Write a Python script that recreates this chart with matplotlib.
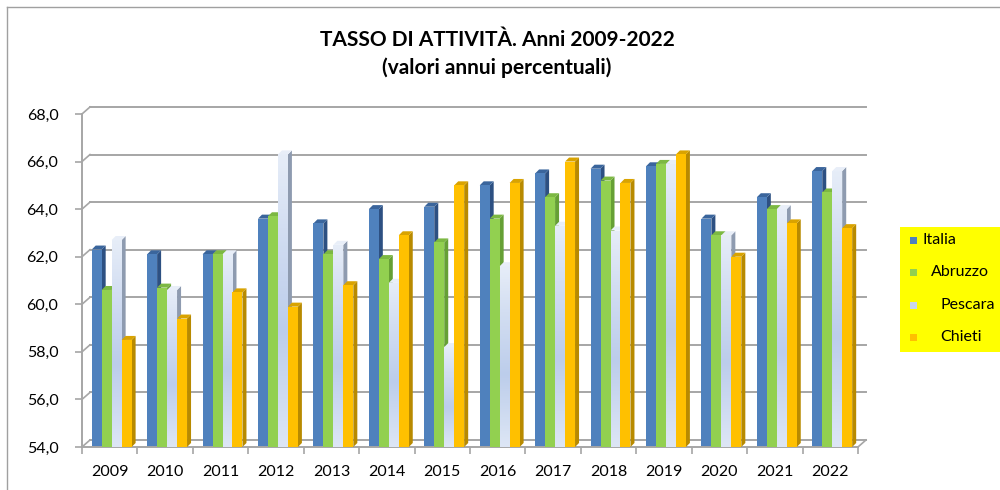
import matplotlib.pyplot as plt
from matplotlib.patches import Rectangle, Polygon
from matplotlib.lines import Line2D
from matplotlib.colors import LinearSegmentedColormap
import numpy as np

# Data
years = ['2009', '2010', '2011', '2012', '2013', '2014', '2015',
         '2016', '2017', '2018', '2019', '2020', '2021', '2022']
italia = [62.3, 62.1, 62.1, 63.6, 63.4, 64.0, 64.1, 65.0, 65.5, 65.7, 65.8, 63.6, 64.5, 65.6]
abruzzo = [60.6, 60.7, 62.1, 63.7, 62.1, 61.9, 62.6, 63.6, 64.5, 65.2, 65.9, 62.9, 64.0, 64.7]
pescara = [62.7, 60.6, 62.1, 66.3, 62.5, 60.9, 58.2, 61.6, 63.3, 63.1, 65.9, 62.9, 64.0, 65.6]
chieti = [58.5, 59.4, 60.5, 59.9, 60.8, 62.9, 65.0, 65.1, 66.0, 65.1, 66.3, 62.0, 63.4, 63.2]
series_names = ['Italia', 'Abruzzo', 'Pescara', 'Chieti']
y_ticks = [54, 56, 58, 60, 62, 64, 66, 68]

series = [italia, abruzzo, pescara, chieti]
face_colors = ['#4f81bd', '#92d050', '#d6e1f3', '#ffc000']
side_colors = ['#2d5082', '#66a035', '#8e9bb0', '#b88a00']
top_colors = ['#3a659c', '#7cb842', '#e8eef8', '#d9a300']

plt.rcParams['font.family'] = ['Lato', 'DejaVu Sans']

fig = plt.figure(figsize=(10, 4.9), dpi=100)
ax = fig.add_axes([0.082, 0.0878, 0.776, 0.6796])
ax.set_xlim(-0.5, 13.5)
ax.set_ylim(54, 68)

# pixel -> data unit helpers for the fake 3D depth
px_x = 776 / 14
px_y = 333 / 14
grid_dx, grid_dy = 8 / px_x, 7 / px_y
bar_dx, bar_dy = 4 / px_x, 4 / px_y

grid_col = '#a6a6a6'

# back wall gridlines with the small diagonal link to the axis
for v in y_ticks:
    ax.plot([-0.5 + grid_dx, 13.5 + grid_dx], [v + grid_dy, v + grid_dy],
            color=grid_col, lw=1.4, zorder=1, clip_on=False)
    ax.plot([-0.5, -0.5 + grid_dx], [v, v + grid_dy],
            color=grid_col, lw=1.2, zorder=1, clip_on=False)
# floor right edge
ax.plot([13.5, 13.5 + grid_dx], [54, 54 + grid_dy], color=grid_col, lw=1.2,
        zorder=1, clip_on=False)

# gradient used for the Pescara bars
pesc_cmap = LinearSegmentedColormap.from_list(
    'pesc', [(0, '#dde6f5'), (0.4, '#bccdeb'), (0.75, '#d3def2'), (1, '#e6edf8')])
grad = np.linspace(0, 1, 100).reshape(-1, 1)

# bars with a side and a top face
x = np.arange(len(years))
w = 0.18
for i, vals in enumerate(series):
    lefts = x - 0.325 + i * w
    for xl, v in zip(lefts, vals):
        side = Polygon([(xl + w, 54), (xl + w, v), (xl + w + bar_dx, v + bar_dy),
                        (xl + w + bar_dx, 54 + bar_dy)], closed=True,
                       facecolor=side_colors[i], edgecolor='none', zorder=2 + i)
        top = Polygon([(xl, v), (xl + w, v), (xl + w + bar_dx, v + bar_dy),
                       (xl + bar_dx, v + bar_dy)], closed=True,
                      facecolor=top_colors[i], edgecolor='none', zorder=2 + i)
        ax.add_patch(side)
        ax.add_patch(top)
    bars = ax.bar(lefts, np.array(vals) - 54, bottom=54, width=w, align='edge',
                  color=face_colors[i], zorder=2.5 + i, label=series_names[i])
    if series_names[i] == 'Pescara':
        for b in bars:
            im = ax.imshow(grad, cmap=pesc_cmap, aspect='auto', origin='lower',
                           extent=[b.get_x(), b.get_x() + b.get_width(),
                                   54, b.get_y() + b.get_height()],
                           zorder=2.6 + i)
            im.set_clip_path(b)

ax.set_xlim(-0.5, 13.5)
ax.set_ylim(54, 68)

# axes style
for s in ['top', 'right']:
    ax.spines[s].set_visible(False)
for s in ['left', 'bottom']:
    ax.spines[s].set_color(grid_col)
    ax.spines[s].set_linewidth(1.4)
ax.set_yticks(y_ticks)
ax.set_yticklabels([f'{v:.1f}'.replace('.', ',') for v in y_ticks])
ax.set_xticks(np.arange(-0.5, 14, 1), minor=False)
ax.set_xticklabels([])
ax.set_xticks(x, minor=True)
ax.set_xticklabels(years, minor=True)
ax.tick_params(axis='x', which='major', length=5, color=grid_col, width=1.2)
ax.tick_params(axis='x', which='minor', length=0, pad=13, labelsize=11.5)
ax.tick_params(axis='y', length=5, color=grid_col, width=1.2, pad=12, labelsize=11.5)

# title
fig.text(0.497, 1 - 40 / 490, 'TASSO DI ATTIVITÀ. Anni 2009-2022', ha='center',
         va='center', fontsize=15, fontweight='bold')
fig.text(0.497, 1 - 68 / 490, '(valori annui percentuali)', ha='center',
         va='center', fontsize=15, fontweight='bold')

# legend on yellow box
fig.patches.append(Rectangle((0.900, 1 - 352 / 490), 0.11, 125 / 490,
                             transform=fig.transFigure, facecolor='#ffff00',
                             edgecolor='none', zorder=0))
leg_y = [240, 272, 305, 337]
leg_tx = [922, 931, 940, 940]
for i, name in enumerate(series_names):
    fig.patches.append(Rectangle((0.910, 1 - (leg_y[i] + 4) / 490), 0.007, 7 / 490,
                                 transform=fig.transFigure,
                                 facecolor=face_colors[i] if i != 2 else '#c9d6ee',
                                 edgecolor='none', zorder=1))
    fig.text(leg_tx[i] / 1000, 1 - leg_y[i] / 490, name, ha='left', va='center',
             fontsize=11.5)

# chart border
fig.add_artist(Line2D([0.007, 0.007], [0, 1 - 7 / 490], color='#a0a0a0', lw=1,
                      transform=fig.transFigure))
fig.add_artist(Line2D([0.007, 1], [1 - 7 / 490, 1 - 7 / 490], color='#a0a0a0', lw=1,
                      transform=fig.transFigure))

fig.savefig('out.png', dpi=100)
